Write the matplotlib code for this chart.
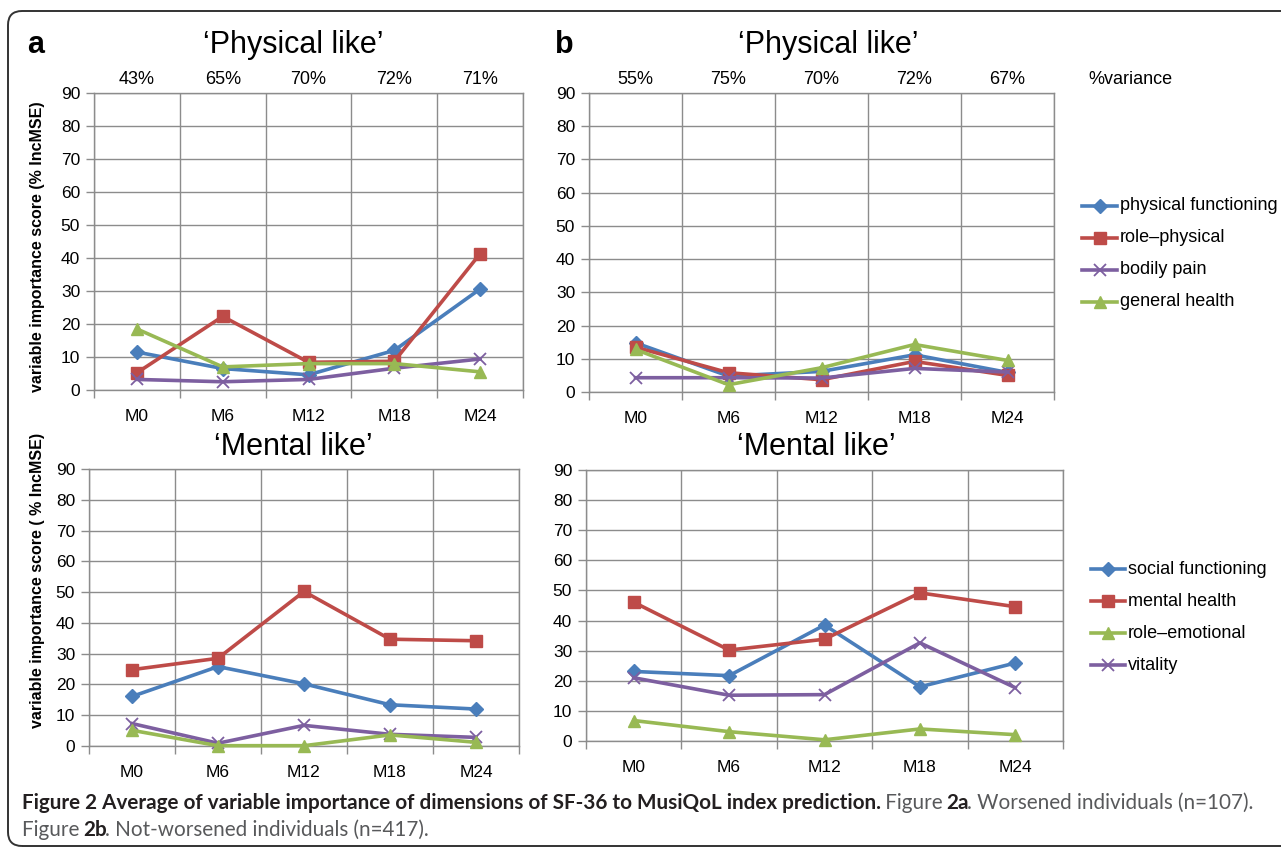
import matplotlib
matplotlib.use("Agg")
import matplotlib.pyplot as plt
from matplotlib.patches import FancyBboxPatch
from matplotlib.lines import Line2D
from matplotlib.transforms import blended_transform_factory
import numpy as np

# ---------------- data ----------------
months = ["M0", "M6", "M12", "M18", "M24"]

pct_a = ["43%", "65%", "70%", "72%", "71%"]
pct_b = ["55%", "75%", "70%", "72%", "67%"]

phys_names = ["physical functioning", "role\u2013physical", "bodily pain", "general health"]
ment_names = ["social functioning", "mental health", "role\u2013emotional", "vitality"]

# panel a (worsened) - physical like
a_phys_pf = [11.5, 6.5, 4.6, 12.0, 30.6]
a_phys_rp = [5.2, 22.3, 8.4, 8.7, 41.3]
a_phys_bp = [3.2, 2.5, 3.2, 6.6, 9.4]
a_phys_gh = [18.5, 7.0, 8.0, 8.0, 5.5]

# panel b (not worsened) - physical like
b_phys_pf = [14.8, 4.8, 6.2, 11.2, 5.9]
b_phys_rp = [13.5, 5.8, 3.7, 9.2, 5.0]
b_phys_bp = [4.3, 4.3, 4.2, 7.1, 6.0]
b_phys_gh = [12.8, 2.2, 7.3, 14.3, 9.5]

# panel a (worsened) - mental like
a_ment_sf = [16.1, 25.8, 20.2, 13.4, 12.0]
a_ment_mh = [24.8, 28.5, 50.2, 34.7, 34.2]
a_ment_re = [5.1, 0.1, 0.1, 3.6, 1.2]
a_ment_vt = [7.3, 0.9, 6.7, 3.8, 2.8]

# panel b (not worsened) - mental like
b_ment_sf = [23.1, 21.7, 38.5, 18.0, 25.9]
b_ment_mh = [46.1, 30.2, 33.8, 49.2, 44.6]
b_ment_re = [6.8, 3.1, 0.4, 4.0, 2.1]
b_ment_vt = [21.0, 15.2, 15.4, 32.6, 17.7]

# ---------------- style ----------------
BLUE = "#4A7EBB"
RED = "#BE4B48"
GREEN = "#98B954"
PURPLE = "#7D5FA0"
GRID = "#8c8c8c"

W, H = 1281, 849
fig = plt.figure(figsize=(W / 100, H / 100), dpi=100)
fig.patch.set_facecolor("white")

ARIAL = ["Liberation Sans", "DejaVu Sans"]
NARROW = ["Liberation Sans Narrow", "DejaVu Sans Condensed", "Liberation Sans"]


def px_axes(x0, x1, ytop, ybot):
    return fig.add_axes([x0 / W, 1 - ybot / H, (x1 - x0) / W, (ybot - ytop) / H])


def style_axes(ax, fam):
    n = len(months)
    ax.set_xlim(0, n)
    ax.set_ylim(0, 90)
    ax.set_yticks(np.arange(0, 91, 10))
    ax.set_xticks(np.arange(0, n + 1))
    ax.set_xticklabels([])
    ax.set_xticks(np.arange(n) + 0.5, minor=True)
    ax.set_xticklabels(months, minor=True, family=fam, fontsize=12.5)
    ax.tick_params(axis="x", which="minor", length=0, pad=14)
    ax.tick_params(axis="x", which="major", length=6, color=GRID, width=1, direction="out")
    ax.tick_params(axis="y", length=6, color=GRID, width=1, direction="out", pad=4)
    for lab in ax.get_yticklabels():
        lab.set_family(fam)
        lab.set_fontsize(12.5)
    ax.grid(True, which="major", color=GRID, lw=1.0)
    ax.set_axisbelow(True)
    for s in ax.spines.values():
        s.set_color(GRID)
        s.set_linewidth(1.0)


def plot_series(ax, series):
    x = np.arange(len(months)) + 0.5
    styles = [
        dict(color=BLUE, marker="D", markersize=7),
        dict(color=RED, marker="s", markersize=8.5),
        dict(color=PURPLE, marker="x", markersize=9, markeredgewidth=1.3),
        dict(color=GREEN, marker="^", markersize=9),
    ]
    handles = []
    for vals, st in zip(series, styles):
        h, = ax.plot(x, vals, lw=2.6, clip_on=False, zorder=3, **st)
        handles.append(h)
    return handles


# axes
ax_a1 = px_axes(94, 523, 93, 390)
ax_b1 = px_axes(589, 1054, 93, 392)
ax_a2 = px_axes(89, 519, 469, 746)
ax_b2 = px_axes(586, 1063, 470, 741)

style_axes(ax_a1, ARIAL)
style_axes(ax_a2, ARIAL)
style_axes(ax_b1, NARROW)
style_axes(ax_b2, NARROW)

plot_series(ax_a1, [a_phys_pf, a_phys_rp, a_phys_bp, a_phys_gh])
h_phys = plot_series(ax_b1, [b_phys_pf, b_phys_rp, b_phys_bp, b_phys_gh])
plot_series(ax_a2, [a_ment_sf, a_ment_mh, a_ment_vt, a_ment_re])
h_ment = plot_series(ax_b2, [b_ment_sf, b_ment_mh, b_ment_vt, b_ment_re])

# percent variance labels
for ax, labs, fam in [(ax_a1, pct_a, ARIAL), (ax_b1, pct_b, NARROW)]:
    tr = blended_transform_factory(ax.transData, fig.transFigure)
    for i, t in enumerate(labs):
        ax.text(i + 0.5, 1 - 79 / H, t, transform=tr,
                ha="center", va="center", fontsize=13, family=fam)
fig.text(1088 / W, 1 - 79 / H, "%variance", ha="left", va="center",
         fontsize=13, family=NARROW)

# titles
fig.text(293 / W, 1 - 45 / H, "\u2018Physical like\u2019", ha="center", va="center",
         fontsize=22, family=ARIAL)
fig.text(828 / W, 1 - 45 / H, "\u2018Physical like\u2019", ha="center", va="center",
         fontsize=22, family=NARROW)
fig.text(293 / W, 1 - 447 / H, "\u2018Mental like\u2019", ha="center", va="center",
         fontsize=22, family=ARIAL)
fig.text(816 / W, 1 - 447 / H, "\u2018Mental like\u2019", ha="center", va="center",
         fontsize=22, family=NARROW)

# panel letters
fig.text(36 / W, 1 - 45 / H, "a", ha="center", va="center", fontsize=22,
         fontweight="bold", family=ARIAL)
fig.text(564 / W, 1 - 45 / H, "b", ha="center", va="center", fontsize=22,
         fontweight="bold", family=ARIAL)

# y labels
fig.text(38 / W, 1 - 247 / H, "variable importance score (% IncMSE)", rotation=90,
         ha="center", va="center", fontsize=11.5, fontweight="bold", family=ARIAL)
fig.text(38 / W, 1 - 580 / H, "variable importance score ( % IncMSE)", rotation=90,
         ha="center", va="center", fontsize=11.5, fontweight="bold", family=ARIAL)


def draw_legend(handles, names, x_line0, x_line1, ys):
    for h, name, y in zip(handles, names, ys):
        yy = 1 - y / H
        ln = Line2D([x_line0 / W, x_line1 / W], [yy, yy], transform=fig.transFigure,
                    color=h.get_color(), lw=2.6)
        fig.add_artist(ln)
        mk = Line2D([(x_line0 + x_line1) / 2 / W], [yy], transform=fig.transFigure,
                    color=h.get_color(), marker=h.get_marker(),
                    markersize=h.get_markersize(),
                    markeredgewidth=h.get_markeredgewidth(), lw=0)
        fig.add_artist(mk)
        fig.text((x_line1 + 3) / W, yy, name, ha="left", va="center",
                 fontsize=13, family=NARROW)


draw_legend(h_phys, phys_names, 1082, 1117, [206, 238, 270, 302])
draw_legend([h_ment[0], h_ment[1], h_ment[3], h_ment[2]], ment_names,
            1091, 1125, [569, 601, 633, 665])

# border
border = FancyBboxPatch((8, H - 846), 1300, 835, boxstyle="round,pad=0,rounding_size=14",
                        transform=None, fill=False, edgecolor="#333333", lw=1.4)
fig.add_artist(border)

# caption
CAP = ["Lato", "Noto Sans", "DejaVu Sans"]
renderer = fig.canvas.get_renderer()


def chain(pieces, x, y, size):
    for txt, weight, color in pieces:
        t = fig.text(x / W, 1 - y / H, txt, ha="left", va="center", fontsize=size,
                     fontweight=weight, color=color, family=CAP)
        bb = t.get_window_extent(renderer=renderer)
        x = bb.x1 - 1.5


DARK = "#231f20"
GREY = "#58595b"
chain([("Figure 2 Average of variable importance of dimensions of SF-36 to MusiQoL index prediction.", "bold", DARK),
       (" Figure ", "normal", GREY), ("2a", "bold", DARK),
       (". Worsened individuals (n=107).", "normal", GREY)], 22, 803, 14.9)
chain([("Figure ", "normal", GREY), ("2b", "bold", DARK),
       (". Not-worsened individuals (n=417).", "normal", GREY)], 22, 830, 14.9)

fig.savefig("out.png", dpi=100)
